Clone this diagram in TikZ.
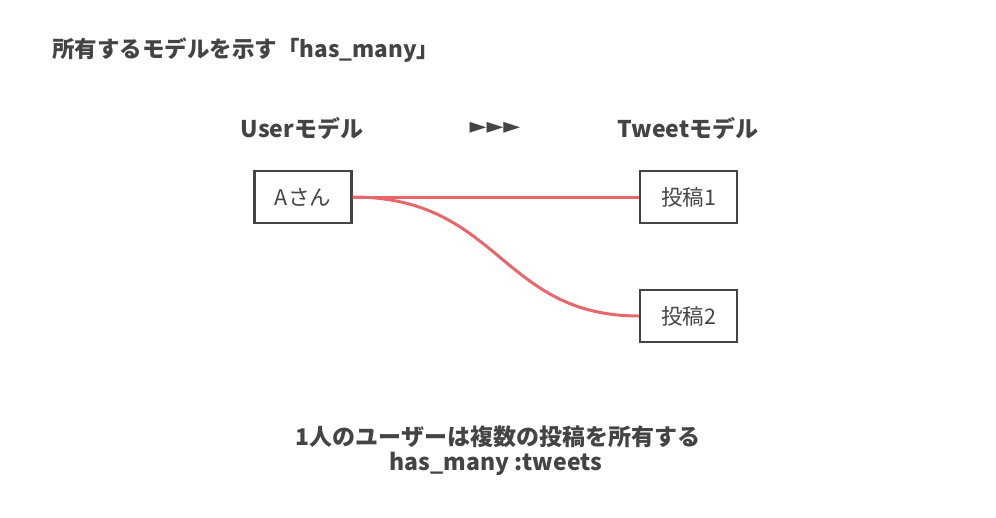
\documentclass[tikz,border=0pt]{standalone}
\usepackage{fontspec}
\setmainfont{Noto Sans CJK JP}
\newfontfamily\symfont{DejaVu Sans}
\definecolor{txt}{HTML}{444444}
\definecolor{link}{HTML}{E8676B}
\begin{document}
\begin{tikzpicture}[x=1pt,y=-1pt,
  every node/.style={text=txt,inner sep=0pt},
  title/.style={font=\fontsize{22.5}{26}\selectfont\bfseries},
  head/.style={font=\fontsize{23}{27}\selectfont\bfseries},
  box/.style={draw=txt,line width=2.2pt,minimum width=97pt,minimum height=52pt,font=\fontsize{21.5}{24}\selectfont},
  conn/.style={draw=link,line width=3pt}]
\useasboundingbox (0,0) rectangle (996,517);
\node[title,anchor=west] (t) at (52,50) {所有するモデルを示す「has\_many」};
\node[head] (uh) at (302,128) {Userモデル};
\node[head,font=\symfont\fontsize{22}{26}\selectfont] (ar) at (495,128) {►►►};
\node[head] (th) at (688,128) {Tweetモデル};
\node[box] (a) at (303,197) {Aさん};
\node[box] (p1) at (688.5,197) {投稿1};
\node[box] (p2) at (688.5,316) {投稿2};
\draw[conn] (a.east) -- (p1.west);
\draw[conn] (a.east) .. controls (500,197) and (500,316) .. (p2.west);
\node[head] (b1) at (498,437) {1人のユーザーは複数の投稿を所有する};
\node[head] (b2) at (496,464) {has\_many :tweets};
\end{tikzpicture}
\end{document}
